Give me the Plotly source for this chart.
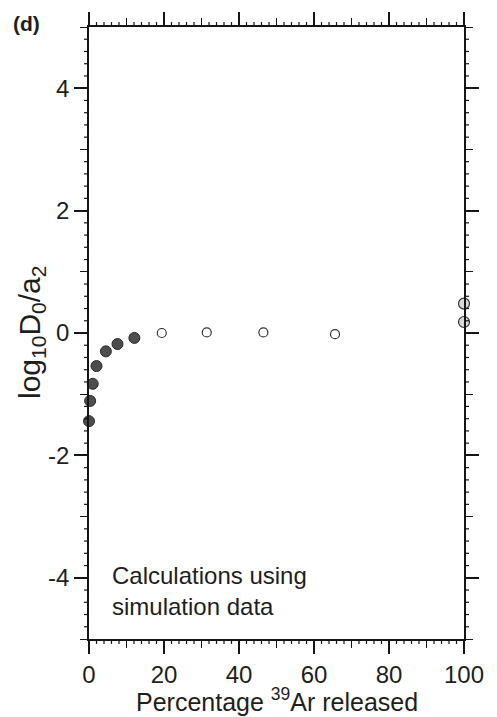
import plotly.graph_objects as go

# Data
filled_x = [0.0, 0.3, 1.0, 2.0, 4.5, 7.6, 12.1]
filled_y = [-1.44, -1.11, -0.83, -0.54, -0.30, -0.18, -0.08]
open_x = [19.4, 31.4, 46.5, 65.6]
open_y = [0.0, 0.01, 0.01, -0.02]
end_x = [100.0, 100.0]
end_y = [0.48, 0.18]

x_major = [0, 20, 40, 60, 80, 100]
x_major_text = ["0", "20", "40", "60", "80", "100"]
x_mid = [10, 30, 50, 70, 90]
x_minor = [v for v in range(0, 101, 2) if v % 10]
y_major = [-4, -2, 0, 2, 4]
y_major_text = ["-4", "-2", "0", "2", "4"]
y_mid = [-5, -3, -1, 1, 3, 5]
y_minor = [round(-5 + 0.2 * i, 1) for i in range(51) if i % 5]

XR = [0, 100]
YR = [-5, 5]
FONT = "Liberation Sans, Arial, Helvetica, sans-serif"
INK = "#151515"
TXT = "#1e1e1e"
PLOT_W, PLOT_H = 375, 616
MINOR_LEN = 5

fig = go.Figure()
fig.add_trace(go.Scatter(x=filled_x, y=filled_y, mode="markers",
                         marker=dict(size=11, color="#4d4d4d", line=dict(color="#2a2a2a", width=1)),
                         showlegend=False, cliponaxis=False))
fig.add_trace(go.Scatter(x=open_x, y=open_y, mode="markers",
                         marker=dict(size=9, color="white", line=dict(color="#333333", width=1.2)),
                         showlegend=False, cliponaxis=False))
fig.add_trace(go.Scatter(x=end_x, y=end_y, mode="markers",
                         marker=dict(size=11, color="#d9d9d9", line=dict(color="#333333", width=1.2)),
                         showlegend=False, cliponaxis=False))
# invisible trace to activate the medium-tick overlay axes
fig.add_trace(go.Scatter(x=[None], y=[None], xaxis="x2", yaxis="y2", showlegend=False,
                         hoverinfo="skip"))


def tick_axis(rng, vals, length, width, overlay, anchor):
    return dict(range=rng, overlaying=overlay, anchor=anchor, tickmode="array", tickvals=vals,
                ticklen=length, tickwidth=width, tickcolor=INK, ticks="outside",
                showticklabels=False, showgrid=False, zeroline=False, showline=False,
                mirror="ticks")


fig.update_layout(
    width=497, height=717,
    margin=dict(l=89, r=33, t=23, b=78),
    paper_bgcolor="white", plot_bgcolor="white",
    font=dict(family=FONT, size=24, color=TXT),
    xaxis=dict(range=XR, tickmode="array", tickvals=x_major, ticktext=x_major_text,
               ticks="outside", ticklen=13, tickwidth=1.5, tickcolor=INK,
               showline=True, linecolor=INK, linewidth=1.5, mirror="ticks",
               showgrid=False, zeroline=False, tickfont=dict(size=24)),
    yaxis=dict(range=YR, tickmode="array", tickvals=y_major, ticktext=y_major_text,
               ticks="outside", ticklen=13, tickwidth=1.5, tickcolor=INK,
               showline=True, linecolor=INK, linewidth=1.5, mirror="ticks",
               showgrid=False, zeroline=False, tickfont=dict(size=24)),
    xaxis2=tick_axis(XR, x_mid, 8, 1.4, "x", "y2"),
    yaxis2=tick_axis(YR, y_mid, 8, 1.4, "y", "x2"),
)

# minor ticks on all four sides (axis decoration)
dy = MINOR_LEN / PLOT_H
dx = MINOR_LEN / PLOT_W
tick_line = dict(color=INK, width=1.2)
for xv in x_minor:
    fig.add_shape(type="line", xref="x", yref="paper", x0=xv, x1=xv, y0=0, y1=-dy, line=tick_line)
    fig.add_shape(type="line", xref="x", yref="paper", x0=xv, x1=xv, y0=1, y1=1 + dy, line=tick_line)
for yv in y_minor:
    fig.add_shape(type="line", xref="paper", yref="y", x0=0, x1=-dx, y0=yv, y1=yv, line=tick_line)
    fig.add_shape(type="line", xref="paper", yref="y", x0=1, x1=1 + dx, y0=yv, y1=yv, line=tick_line)

fig.add_annotation(xref="paper", yref="paper", x=(31 - 89) / 375, y=(639 - 331) / 616,
                   text="log<sub>10</sub>D<sub>0</sub>/a<sub>2</sub>", textangle=-90,
                   showarrow=False, font=dict(size=30, family=FONT, color=TXT),
                   xanchor="center", yanchor="middle")
fig.add_annotation(xref="paper", yref="paper", x=0.5, y=(639 - 700) / 616,
                   text="Percentage <sup>39</sup>Ar released", showarrow=False,
                   font=dict(size=25, family=FONT, color=TXT), xanchor="center", yanchor="middle")
fig.add_annotation(xref="paper", yref="paper", x=(110 - 89) / 375, y=(639 - 591) / 616,
                   text="Calculations using<br>simulation data", showarrow=False, align="left",
                   font=dict(size=24, family=FONT, color=TXT), xanchor="left", yanchor="middle")
fig.add_annotation(xref="paper", yref="paper", x=(11 - 89) / 375, y=(639 - 19) / 616,
                   text="<b>(d)</b>", showarrow=False,
                   font=dict(size=21, family=FONT, color=TXT), xanchor="left", yanchor="middle")

fig.write_html("out.html")
